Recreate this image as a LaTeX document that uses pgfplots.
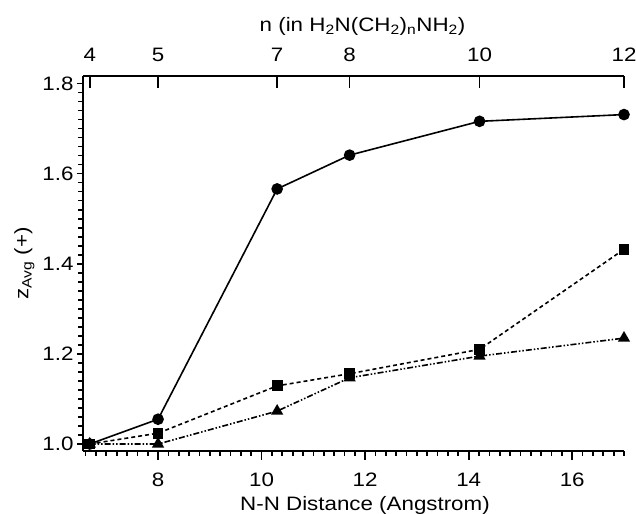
\documentclass[border=0pt]{standalone}
\usepackage{fontspec}
\setmainfont{Liberation Sans}[FakeStretch=1.15]
\usepackage{pgfplots}
\pgfplotsset{compat=1.18}

\begin{document}
\begin{tikzpicture}
\pgfplotsset{
  every axis/.append style={
    scale only axis, width=541bp, height=375bp,
    at={(0,0)}, anchor=south west,
    xmin=6.55, xmax=17.0, ymin=0.9845, ymax=1.8166,
    axis line style={line width=1.7bp},
    every tick/.style={black, line width=1.7bp},
    /pgf/number format/assume math mode=true,
    tick label style={font=\fontsize{19.5}{22}\selectfont},
    label style={font=\fontsize{19.5}{22}\selectfont},
  }
}
% bottom axis
\begin{axis}[
    axis x line*=bottom, axis y line=none,
    xtick={8,10,12,14,16},
    minor xtick={6.6,6.8,...,17.0},
    tick align=outside, major tick length=8.5bp, minor tick length=4.5bp,
    xticklabel style={anchor=base, yshift=-26.5bp},
    xlabel={N-N Distance (Angstrom)},
    xlabel style={at={([xshift=11.5bp,yshift=-59bp]axis description cs:0.5,0)}, anchor=base},
]
\end{axis}
% left axis with the data
\begin{axis}[
    axis x line=none, axis y line*=left,
    ytick={1.0,1.2,1.4,1.6,1.8},
    minor ytick={1.0,1.02,...,1.81},
    tick align=outside, major tick length=6bp, minor tick length=4.5bp,
    yticklabel style={/pgf/number format/.cd, fixed, fixed zerofill, precision=1},
    ylabel={z\textsubscript{Avg} (+)},
    ylabel style={at={([xshift=-54.5bp]axis description cs:0,0.5)}, anchor=base},
    clip=false,
]
\addplot[black, line width=1.6bp, mark=*, mark size=5bp] coordinates {
  (6.68,1.000) (8.0,1.055) (10.3,1.566) (11.7,1.641) (14.21,1.716) (17.0,1.731)};
\addplot[black, line width=1.6bp, dash pattern=on 4bp off 3bp,
  mark=square*, mark size=4.6bp, mark options={solid}] coordinates {
  (6.68,1.000) (8.0,1.024) (10.3,1.129) (11.7,1.156) (14.21,1.210) (17.0,1.432)};
\addplot[black, line width=1.6bp,
  dash pattern=on 6bp off 2bp on 1.5bp off 2bp on 1.5bp off 2bp,
  mark=triangle*, mark size=5.5bp, mark options={solid}] coordinates {
  (6.68,1.000) (8.0,1.000) (10.3,1.073) (11.7,1.147) (14.21,1.195) (17.0,1.235)};
\end{axis}
% top axis: n
\begin{axis}[
    axis x line*=top, axis y line=none,
    xtick={6.68,8.0,10.3,11.7,14.21,17.0},
    xticklabels={4,5,7,8,10,12},
    tick align=inside, major tick length=12.5bp,
    xticklabel style={anchor=base, yshift=14bp},
    xlabel={n (in H\textsubscript{2}N(CH\textsubscript{2})\textsubscript{n}NH\textsubscript{2})},
    xlabel style={at={([xshift=9bp,yshift=44.3bp]axis description cs:0.5,1)}, anchor=base},
]
\end{axis}
\pgfresetboundingbox
\useasboundingbox (-83bp,-63bp) rectangle (553bp,451bp);
\end{tikzpicture}
\end{document}
